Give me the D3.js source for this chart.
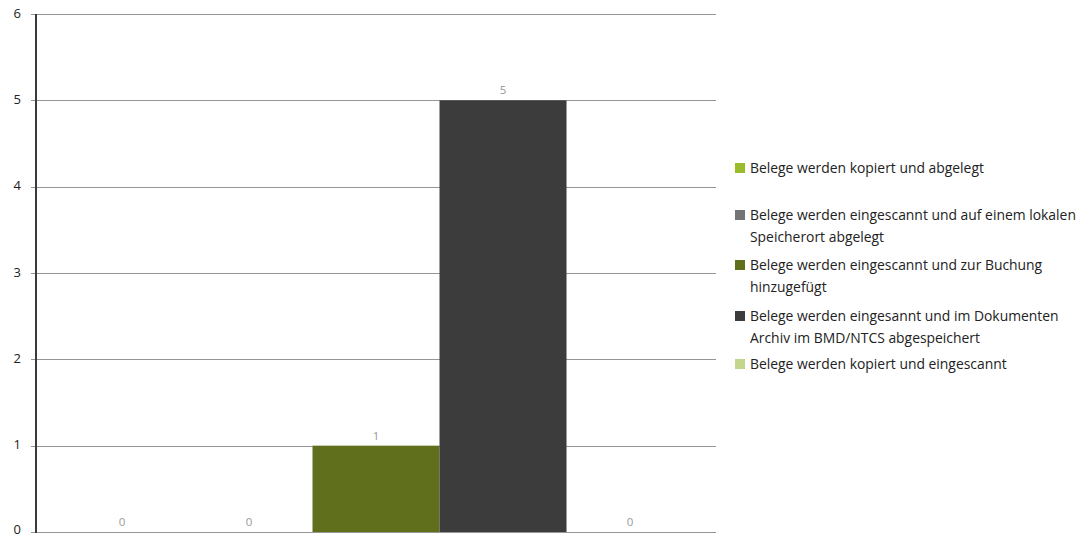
<!DOCTYPE html>
<html><head><meta charset="utf-8">
<script src="https://cdn.jsdelivr.net/npm/d3@7"></script>
<style>
html,body{margin:0;padding:0;background:#fff;}
svg{display:block;font-family:"Open Sans",sans-serif;}
</style></head>
<body>
<svg id="chart" width="1086" height="538"></svg>
<script>
// Series (one bar each) and their counts
const seriesNames = [
  "Belege werden kopiert und abgelegt",
  "Belege werden eingescannt und auf einem lokalen Speicherort abgelegt",
  "Belege werden eingescannt und zur Buchung hinzugefügt",
  "Belege werden eingesannt und im Dokumenten Archiv im BMD/NTCS abgespeichert",
  "Belege werden kopiert und eingescannt"
];
const seriesValues = [0, 0, 1, 5, 0];
const seriesColors = ["#9bbb2a", "#747474", "#606f1c", "#3c3c3c", "#c4d58c"];
// Legend lines as wrapped in the legend box
const legendLines = [
  ["Belege werden kopiert und abgelegt"],
  ["Belege werden eingescannt und auf einem lokalen", "Speicherort abgelegt"],
  ["Belege werden eingescannt und zur Buchung", "hinzugefügt"],
  ["Belege werden eingesannt und im Dokumenten", "Archiv im BMD/NTCS abgespeichert"],
  ["Belege werden kopiert und eingescannt"]
];
const yTicks = [0, 1, 2, 3, 4, 5, 6];

const svg = d3.select("#chart");
const plot = {left: 36, right: 716, top: 14, bottom: 532};

const x = d3.scaleBand()
  .domain(seriesNames)
  .range([plot.left, plot.right])
  .paddingInner(0)
  .paddingOuter(0.177);

const y = d3.scaleLinear().domain([0, 6]).range([plot.bottom, plot.top]);

// Horizontal gridlines
svg.append("g")
  .selectAll("line")
  .data(yTicks)
  .join("line")
  .attr("x1", plot.left - 5)
  .attr("x2", plot.right)
  .attr("y1", d => Math.round(y(d)) + 0.5)
  .attr("y2", d => Math.round(y(d)) + 0.5)
  .attr("stroke", "#959595")
  .attr("stroke-width", 1.2);

// Y axis labels
svg.append("g")
  .selectAll("text")
  .data(yTicks)
  .join("text")
  .attr("x", 21)
  .attr("y", d => Math.min(y(d) - 1, 529))
  .attr("dy", "0.35em")
  .attr("text-anchor", "end")
  .attr("font-size", 13)
  .attr("fill", "#222")
  .text(d => d);

// Bars
svg.append("g")
  .selectAll("rect")
  .data(seriesNames)
  .join("rect")
  .attr("x", d => x(d))
  .attr("width", x.bandwidth())
  .attr("y", (d, i) => y(seriesValues[i]))
  .attr("height", (d, i) => y(0) - y(seriesValues[i]))
  .attr("fill", (d, i) => seriesColors[i]);

// Value labels above bars
svg.append("g")
  .selectAll("text")
  .data(seriesNames)
  .join("text")
  .attr("x", d => x(d) + x.bandwidth() / 2)
  .attr("y", (d, i) => y(seriesValues[i]) - 6)
  .attr("text-anchor", "middle")
  .attr("font-size", 11.5)
  .attr("fill", "#999999")
  .text((d, i) => seriesValues[i]);

// Y axis line
svg.append("line")
  .attr("x1", plot.left).attr("x2", plot.left)
  .attr("y1", plot.top).attr("y2", plot.bottom + 1)
  .attr("stroke", "#3a3a3a").attr("stroke-width", 2);

// Legend
const legendTop = [168, 215, 265, 316, 364];
const lg = svg.append("g");
legendLines.forEach((lines, i) => {
  lg.append("rect")
    .attr("x", 735).attr("y", legendTop[i] - 5)
    .attr("width", 10).attr("height", 10)
    .attr("fill", seriesColors[i]);
  lines.forEach((t, j) => {
    lg.append("text")
      .attr("x", 750)
      .attr("y", legendTop[i] + j * 22)
      .attr("dy", "0.35em")
      .attr("font-size", 13.9)
      .attr("fill", "#222")
      .text(t);
  });
});
</script>
</body></html>
